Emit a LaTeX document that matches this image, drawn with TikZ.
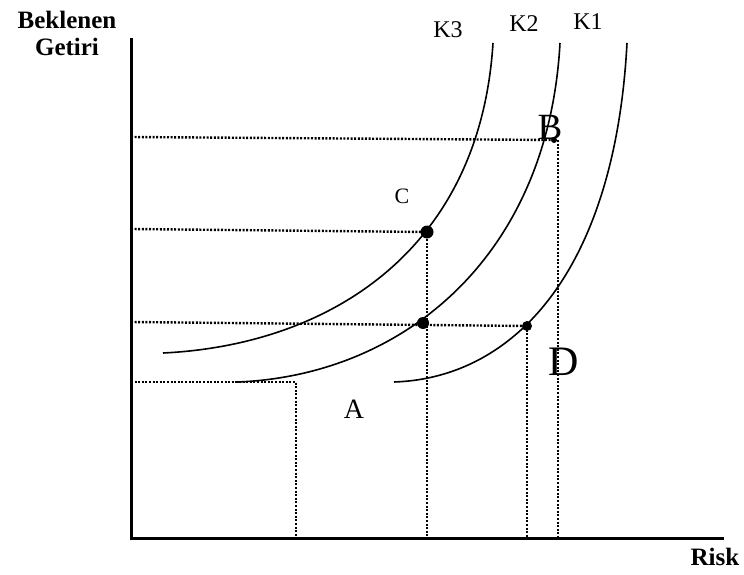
\documentclass[tikz,border=0pt]{standalone}
\usepackage{fontspec}
\setmainfont{Liberation Serif}
\usetikzlibrary{positioning,calc}

\begin{document}
\begin{tikzpicture}[x=1pt,y=-1pt,
 ax/.style={line width=3pt,line cap=rect},
 crv/.style={line width=1.6pt},
 dt/.style={line width=2.4pt,dash pattern=on 2pt off 1.6pt},
 pt/.style={circle,fill=black,inner sep=0pt,minimum size=#1},
 lbl/.style={inner sep=0pt,font=\fontsize{24}{26}\selectfont}]
\useasboundingbox (0,0) rectangle (744,575);
% axes
\coordinate (top) at (131,40);
\coordinate (o) at (131,538);
\coordinate (right) at (722,538);
\draw[ax] (top) -- (o) -- (right);
\node[inner sep=0pt,align=center,font=\bfseries\fontsize{25}{27}\selectfont] (ylab) at (67,33) {Beklenen\\Getiri};
\node[inner sep=0pt,font=\bfseries\fontsize{25}{27}\selectfont] (xlab) at (715,557) {Risk};
% curves
\draw[crv] (163,353) .. controls (330,345) and (480,250) .. (493,43);
\draw[crv] (237,382) .. controls (400,376) and (548,260) .. (560,43);
\draw[crv] (394,382) .. controls (515,378) and (615,270) .. (627,43);
\node[lbl] (k3) at (448,30) {K3};
\node[lbl] (k2) at (524,24) {K2};
\node[lbl] (k1) at (588,22) {K1};
% points
\node[pt=6pt] (b) at (554,140) {};
\node[pt=13pt] (c) at (427,232) {};
\node[pt=12pt] (m) at (423,323) {};
\node[pt=10pt] (n) at (527,326) {};
\coordinate (a) at (296,382);
% axis feet
\coordinate (yb) at (131,137);
\coordinate (yc) at (131,229);
\coordinate (ym) at (131,322);
\coordinate (ya) at (131,382);
\coordinate (xa) at (296,538);
\coordinate (xc) at (427,538);
\coordinate (xn) at (527,538);
\coordinate (xb) at (558,538);
\coordinate (bb) at (558,140);
% dotted guides
\draw[dt] (yb) -- (b.center);
\draw[dt] (yc) -- (c.center);
\draw[dt] (ym) -- (n.center);
\draw[dt] (ya) -- (a) -- (xa);
\draw[dt] (c.center) -- (xc);
\draw[dt] (n.center) -- (xn);
\draw[dt] (bb) -- (xb);
% letters
\node[inner sep=0pt,font=\fontsize{37}{37}\selectfont] (lb) at (550,127) {B};
\node[inner sep=0pt,font=\fontsize{22}{22}\selectfont] (lc) at (402,196) {C};
\node[inner sep=0pt,font=\fontsize{42}{42}\selectfont] (ld) at (564,362) {D};
\node[inner sep=0pt,font=\fontsize{28}{28}\selectfont] (la) at (354,409) {A};
\end{tikzpicture}
\end{document}
